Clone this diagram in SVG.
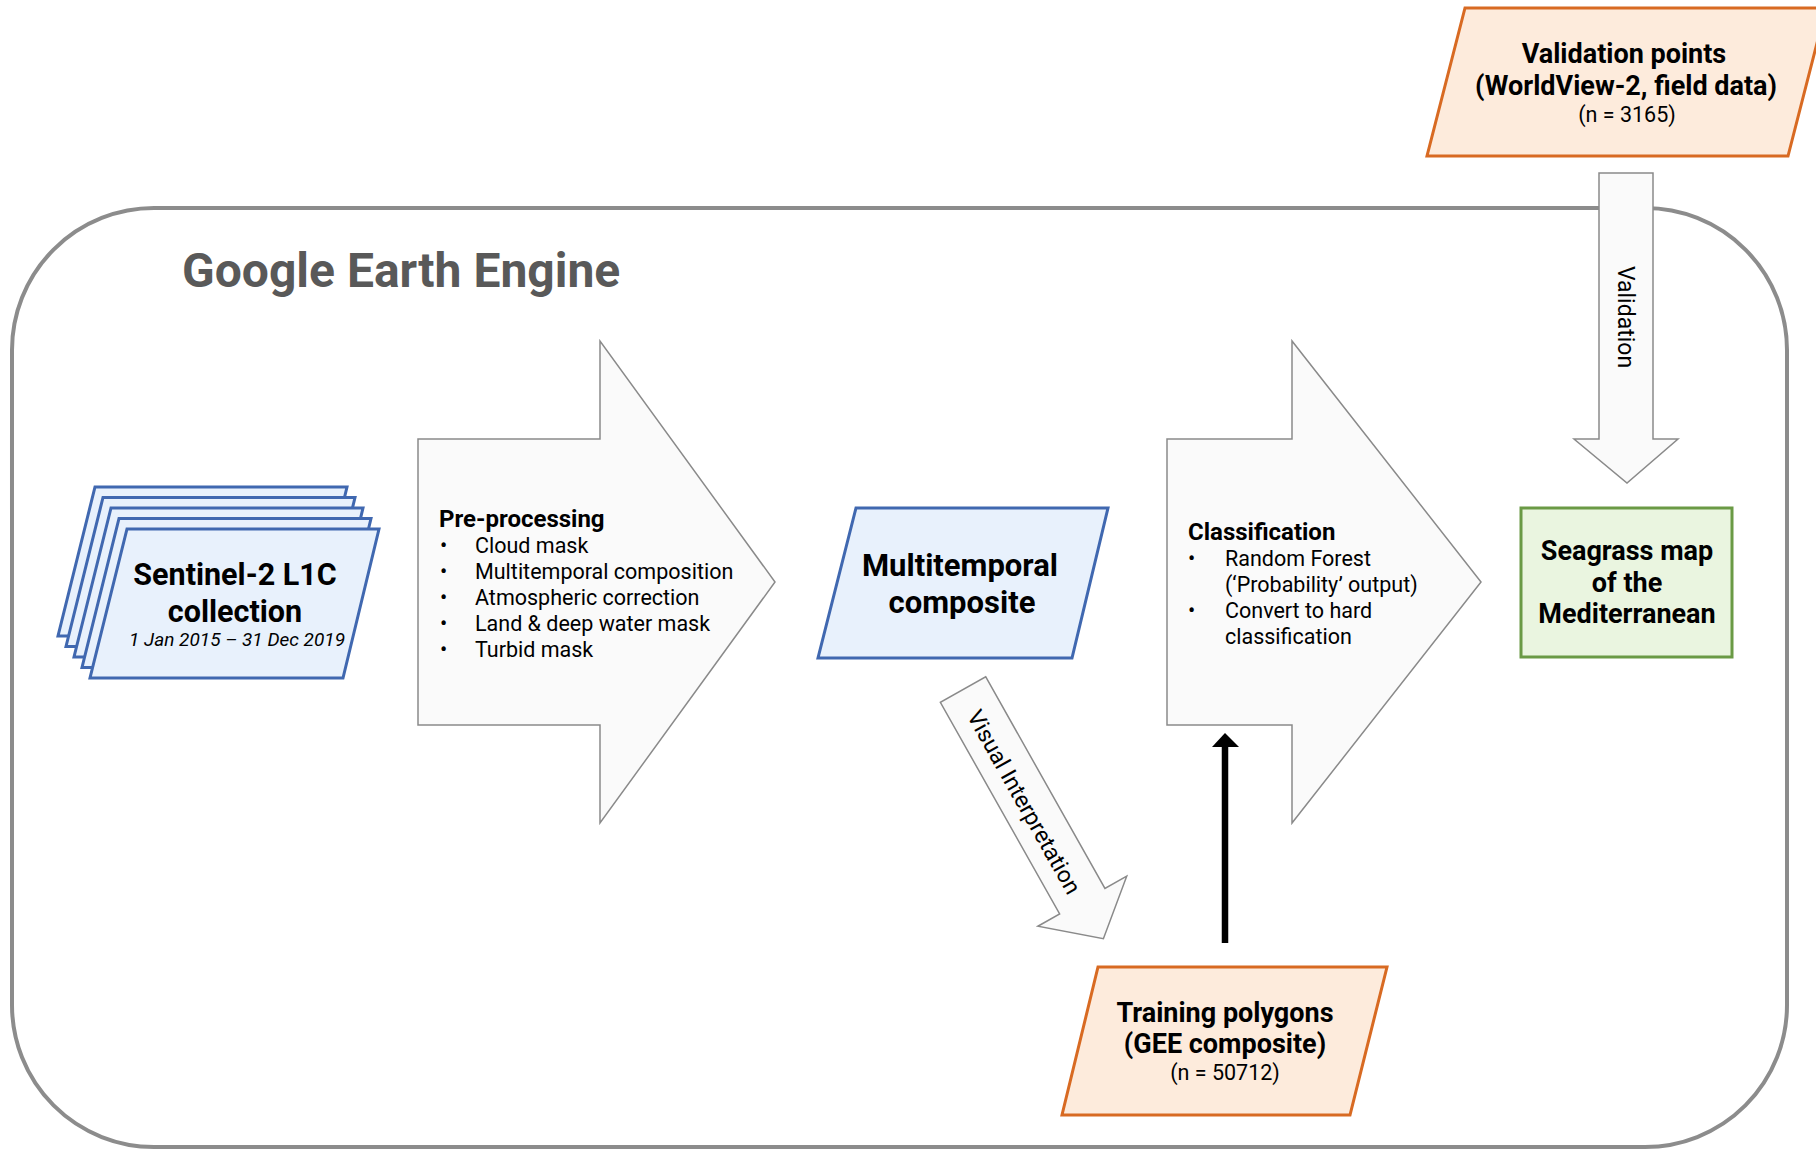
<svg xmlns="http://www.w3.org/2000/svg" width="1816" height="1149" viewBox="0 0 1816 1149">
<defs>
<style>
.t{font-family:Roboto,"Liberation Sans",sans-serif;fill:#000}
.b{font-weight:bold}
.blue{fill:#e8f1fc;stroke:#4068b0;stroke-width:3;stroke-linejoin:miter}
.orange{fill:#fdebdc;stroke:#d86a22;stroke-width:3}
.green{fill:#eaf5e0;stroke:#6a9a45;stroke-width:3}
.bigarrow{fill:#fafafa;stroke:#8a8a8a;stroke-width:1.5}
</style>
</defs>
<rect width="1816" height="1149" fill="#fff"/>
<g id="gee">
<rect x="12" y="208" width="1775" height="939" rx="142" ry="142" fill="none" stroke="#8c8c8c" stroke-width="4"/>
<text class="t b" x="182" y="287" font-size="48" style="fill:#595959">Google Earth Engine</text>
</g>
<g id="sentinel">
<polygon class="blue" points="95,487 347,487 311,636 58,636"/>
<polygon class="blue" points="103,497.5 355,497.5 319,646.5 66,646.5"/>
<polygon class="blue" points="111,508 363,508 327,657 74,657"/>
<polygon class="blue" points="119,518.5 371,518.5 335,667.5 82,667.5"/>
<polygon class="blue" points="127,529 379,529 343,678 90,678"/>
<text class="t b" x="235" y="585" font-size="30.5" text-anchor="middle">Sentinel-2 L1C</text>
<text class="t b" x="235" y="622" font-size="30.5" text-anchor="middle">collection</text>
<text class="t" x="237" y="646" font-size="19" font-style="italic" text-anchor="middle">1 Jan 2015 – 31 Dec 2019</text>
</g>
<g id="preprocessing">
<polygon class="bigarrow" points="418,439 600,439 600,341 775,582 600,823 600,725 418,725"/>
<text class="t b" x="439" y="527" font-size="24">Pre-processing</text>
<g class="t" font-size="21.5">
<text x="440" y="553">•</text><text x="475" y="553">Cloud mask</text>
<text x="440" y="579">•</text><text x="475" y="579">Multitemporal composition</text>
<text x="440" y="605">•</text><text x="475" y="605">Atmospheric correction</text>
<text x="440" y="631">•</text><text x="475" y="631">Land &amp; deep water mask</text>
<text x="440" y="657">•</text><text x="475" y="657">Turbid mask</text>
</g>
</g>
<g id="multitemporal">
<polygon class="blue" points="856,508 1108,508 1072,658 818,658"/>
<text class="t b" x="960" y="576" font-size="31" text-anchor="middle">Multitemporal</text>
<text class="t b" x="962" y="613" font-size="31" text-anchor="middle">composite</text>
</g>
<g id="classification">
<polygon class="bigarrow" points="1167,439 1292,439 1292,341 1481,582 1292,823 1292,725 1167,725"/>
<text class="t b" x="1188" y="540" font-size="24">Classification</text>
<g class="t" font-size="21.5">
<text x="1188" y="566">•</text><text x="1225" y="566">Random Forest</text>
<text x="1225" y="592">(‘Probability’ output)</text>
<text x="1188" y="618">•</text><text x="1225" y="618">Convert to hard</text>
<text x="1225" y="644">classification</text>
</g>
</g>
<g id="seagrass">
<rect class="green" x="1521" y="508" width="211" height="149"/>
<text class="t b" x="1627" y="560" font-size="27" text-anchor="middle">Seagrass map</text>
<text class="t b" x="1627" y="592" font-size="27" text-anchor="middle">of the</text>
<text class="t b" x="1627" y="623" font-size="27" text-anchor="middle">Mediterranean</text>
</g>
<g id="training">
<polygon class="orange" points="1098,967 1387,967 1350,1115 1062,1115"/>
<text class="t b" x="1225" y="1022" font-size="27" text-anchor="middle">Training polygons</text>
<text class="t b" x="1225" y="1053" font-size="27" text-anchor="middle">(GEE composite)</text>
<text class="t" x="1225" y="1080" font-size="21.5" text-anchor="middle">(n = 50712)</text>
</g>
<g id="validation-points">
<polygon class="orange" points="1465,8 1826,8 1788,156 1427,156"/>
<text class="t b" x="1624" y="63" font-size="27" text-anchor="middle">Validation points</text>
<text class="t b" x="1626" y="95" font-size="27" text-anchor="middle">(WorldView-2, field data)</text>
<text class="t" x="1627" y="122" font-size="21.5" text-anchor="middle">(n = 3165)</text>
</g>
<g id="connectors">
<g transform="translate(963,689.5) rotate(60.6)">
<path class="bigarrow" d="M0,-26 L243,-26 L243,-51 L286,0 L243,51 L243,26 L0,26 Z"/>
<text class="t" x="128" y="10" font-size="23" text-anchor="middle">Visual Interpretation</text>
</g>
<path class="bigarrow" d="M1599,173 L1653,173 L1653,439 L1678,439 L1627,483 L1574,439 L1599,439 Z"/>
<text class="t" transform="translate(1626,317) rotate(90)" x="0" y="8" font-size="23" text-anchor="middle">Validation</text>
<line x1="1225" y1="943" x2="1225" y2="745" stroke="#000" stroke-width="6.5"/>
<polygon points="1225,733 1239,747 1212,747" fill="#000"/>
</g>
</svg>
